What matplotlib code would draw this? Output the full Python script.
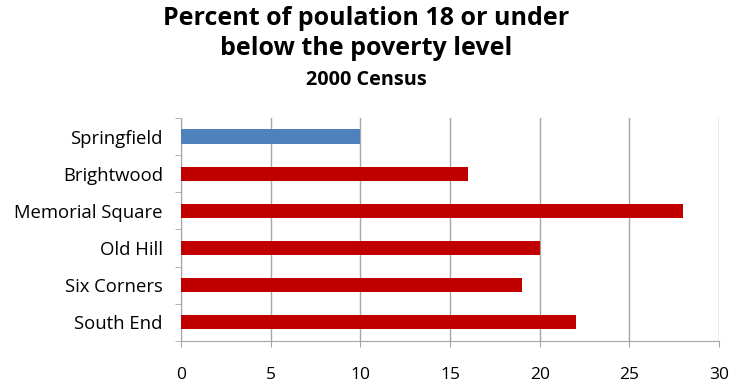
import matplotlib
matplotlib.use("Agg")
import matplotlib.pyplot as plt

# data
areas = ["Springfield", "Brightwood", "Memorial Square", "Old Hill", "Six Corners", "South End"]
pct = [10, 16, 28, 20, 19, 22]
colors = ["#4F81BD", "#C00000", "#C00000", "#C00000", "#C00000", "#C00000"]
xticks = [0, 5, 10, 15, 20, 25, 30]

plt.rcParams["font.family"] = ["Open Sans", "DejaVu Sans"]

fig = plt.figure(figsize=(7.33, 3.83), dpi=100)
ax = fig.add_axes([0.247, 0.1097, 0.734, 0.5823])

ypos = list(range(len(areas)))[::-1]
ax.barh(ypos, pct, height=0.38, color=colors, zorder=3)

ax.set_xlim(0, 30)
ax.set_ylim(-0.5, len(areas) - 0.5)
ax.set_xticks(xticks)
ax.set_yticks(ypos)
ax.set_yticklabels(areas)
ax.set_yticks([y + 0.5 for y in range(-1, len(areas))], minor=True)

ax.grid(axis="x", color="#a6a6a6", linewidth=1, zorder=0)
for side in ["top", "right"]:
    ax.spines[side].set_visible(False)
for side in ["left", "bottom"]:
    ax.spines[side].set_color("#a6a6a6")
ax.tick_params(axis="y", which="major", length=0, labelsize=13.3, pad=13)
ax.tick_params(axis="y", which="minor", length=4, color="#a6a6a6")
ax.tick_params(axis="x", length=4, color="#a6a6a6", labelsize=12.5, pad=15)

fig.text(0.5, 0.953, "Percent of poulation 18 or under", ha="center", va="center",
         fontsize=18, fontweight="bold")
fig.text(0.5, 0.873, "below the poverty level", ha="center", va="center",
         fontsize=18, fontweight="bold")
fig.text(0.5, 0.79, "2000 Census", ha="center", va="center",
         fontsize=14.3, fontweight="bold")

fig.savefig("out.png", dpi=100)
